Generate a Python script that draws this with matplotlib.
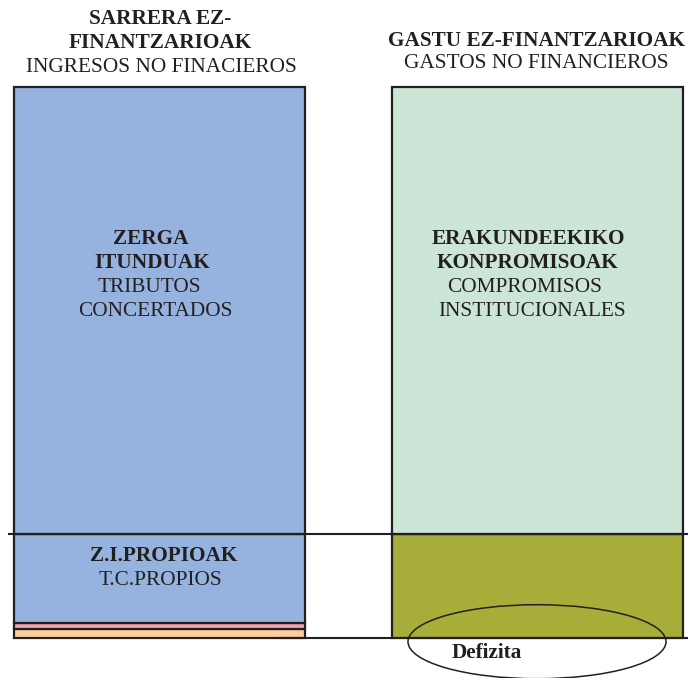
import matplotlib.pyplot as plt
from matplotlib.patches import Ellipse

# Shares of each column (percent of total)
bar_x = [159.75, 537.2]
bar_width = 291
left_parts = ["TRIBUTOS CONCERTADOS", "T.C.PROPIOS", "OTROS 1", "OTROS 2"]
left_values = [81.1, 16.1, 1.2, 1.6]
left_colors = ["#95b3de", "#95b3de", "#f4a3aa", "#fdcf9e"]
right_parts = ["COMPROMISOS INSTITUCIONALES", "RESTO"]
right_values = [81.1, 18.9]
right_colors = ["#cbe6d6", "#a6ad38"]

ink = "#231f20"
W, H = 688, 678

fig = plt.figure(figsize=(W / 100, H / 100), dpi=100)
ax = fig.add_axes([0, 0, 1, 1])
ax.set_xlim(0, W)
# y=0 at 638 px from top, y=100 at 87 px from top
scale = (638 - 87) / 100
ax.set_ylim(-(H - 638) / scale, 100 + 87 / scale)
ax.axis("off")

# stack from the bottom up
def stack(x, values, colors):
    bottom = 0
    for v, c in list(zip(values, colors))[::-1]:
        ax.bar(x, v, bar_width, bottom=bottom, color=c, edgecolor=ink, linewidth=1.6, zorder=2)
        bottom += v

stack(bar_x[0], left_values, left_colors)
stack(bar_x[1], right_values, right_colors)

# reference lines
split = 100 - left_values[0]
ax.hlines(split, 8, 688, color=ink, linewidth=1.5, zorder=3)
ax.hlines(0, 278, 688, color=ink, linewidth=1.5, zorder=3)

# deficit ellipse
ell = Ellipse((537, -(641.7 - 638) / scale), 258, 74 / scale, facecolor="none",
              edgecolor=ink, linewidth=1.1, zorder=4)
ax.add_patch(ell)

font = "Liberation Serif"
fs = 15.3

def label(x, y, s, bold=False):
    fig.text(x / W, 1 - y / H, s, ha="center", va="baseline", fontsize=fs,
             family=font, weight="bold" if bold else "normal", color=ink, zorder=5)

# titles
label(160, 24, "SARRERA EZ-", True)
label(160.5, 48, "FINANTZARIOAK", True)
label(161.5, 72, "INGRESOS NO FINACIEROS")
label(536.7, 46, "GASTU EZ-FINANTZARIOAK", True)
label(536, 67.7, "GASTOS NO FINANCIEROS")

# segment labels
label(150.8, 244, "ZERGA", True)
label(152.5, 268, "ITUNDUAK", True)
label(149, 292.5, "TRIBUTOS")
label(155, 316.5, "CONCERTADOS")
label(528, 244, "ERAKUNDEEKIKO", True)
label(528, 268, "KONPROMISOAK", True)
label(525, 292.5, "COMPROMISOS")
label(531.7, 316.5, "INSTITUCIONALES")
label(164, 560.7, "Z.I.PROPIOAK", True)
label(160, 585, "T.C.PROPIOS")
label(487, 658, "Defizita", True)

fig.savefig("out.png", dpi=100)
